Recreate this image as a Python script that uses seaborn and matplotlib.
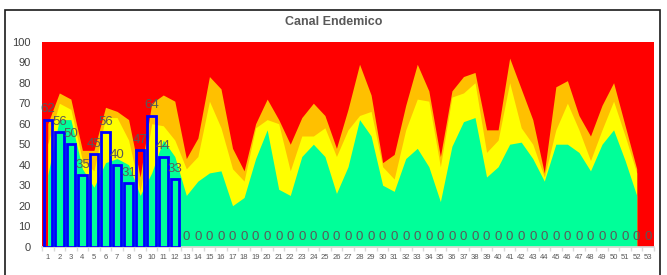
import pandas as pd
import matplotlib
matplotlib.use("Agg")
import matplotlib.pyplot as plt
from matplotlib.patches import Rectangle
import seaborn as sns
import numpy as np

# Semanas epidemiologicas
semanas = list(range(1, 54))

# Casos observados (semanas 1-12, el resto en cero)
casos = [62, 56, 50, 35, 45, 56, 40, 31, 47, 64, 44, 33] + [0] * 41

# Limites del canal endemico (semanas 1-52), valores acumulados
exito = [35, 62, 62, 38, 29, 41, 43, 40, 25, 36, 52, 44,
         25, 32, 36, 37, 20, 24, 43, 57, 28, 25, 44, 50, 44, 26,
         39, 62, 54, 30, 27, 43, 48, 39, 22, 49, 61, 63, 34, 39,
         50, 51, 43, 32, 50, 50, 46, 37, 50, 57, 42, 25]
seguridad = [50, 70, 67, 42, 37, 63, 63, 52, 27, 60, 59, 52,
             38, 44, 71, 58, 38, 32, 58, 62, 60, 37, 54, 54, 58, 44,
             57, 64, 66, 39, 33, 57, 72, 71, 39, 73, 75, 80, 46, 52,
             80, 58, 50, 34, 57, 70, 57, 42, 57, 71, 54, 36]
alerta = [60, 75, 72, 47, 47, 68, 66, 62, 34, 70, 74, 71,
          43, 53, 83, 77, 48, 37, 60, 72, 62, 50, 63, 70, 64, 48,
          67, 89, 74, 41, 45, 69, 89, 76, 44, 76, 83, 85, 57, 57,
          92, 77, 62, 36, 78, 81, 64, 54, 69, 80, 59, 38]

df = pd.DataFrame({"semana": semanas, "casos": casos})

sns.set_theme(style="white")
plt.rcParams["font.family"] = ["Liberation Sans", "DejaVu Sans"]

fig = plt.figure(figsize=(6.67, 2.75), dpi=100)
ax = fig.add_axes([42 / 667, 28.3 / 275, 612 / 667, 205 / 275])
ax.set_facecolor("#FF0000")

x = np.arange(len(exito))
ax.fill_between(x, 0, alerta, color="#FFC000", lw=0, zorder=1)
ax.fill_between(x, 0, seguridad, color="#FFFF00", lw=0, zorder=1)
ax.fill_between(x, 0, exito, color="#00FF99", lw=0, zorder=1)

sns.barplot(data=df, x="semana", y="casos", fill=False, color="#0000FF",
            width=0.74, linewidth=2.0, ax=ax, zorder=3, errorbar=None)

cont = ax.containers[0]
for p in cont.patches:
    if p.get_height() == 0:
        p.set_visible(False)
ax.bar_label(cont, labels=[str(v) for v in casos], padding=3,
             fontsize=9.5, color="#595959", zorder=4)

ax.set_xlim(-0.5, 52.5)
ax.set_ylim(0, 100)
ax.set_yticks(range(0, 101, 10))
ax.set_xlabel("")
ax.set_ylabel("")
ax.tick_params(axis="y", labelsize=8, labelcolor="#404040", length=0, pad=8)
ax.tick_params(axis="x", labelsize=5.5, labelcolor="#595959", length=0, pad=5)
ax.set_xticks(np.arange(-0.5, 53, 1), minor=True)
ax.tick_params(axis="x", which="minor", length=3, color="#d9d9d9", bottom=True)
for s in ["top", "right", "left"]:
    ax.spines[s].set_visible(False)
ax.spines["bottom"].set_color("#d9d9d9")
ax.grid(False)

fig.text(0.5, 1 - 22 / 275, "Canal Endemico", ha="center", va="center",
         fontsize=9, fontweight="bold", color="#595959")

fig.patches.append(Rectangle((5 / 667, -0.1), 655 / 667, 1.1 - 10.5 / 275,
                             transform=fig.transFigure, fill=False,
                             edgecolor="#1a1a1a", lw=1.2))

fig.savefig("out.png", dpi=100)
